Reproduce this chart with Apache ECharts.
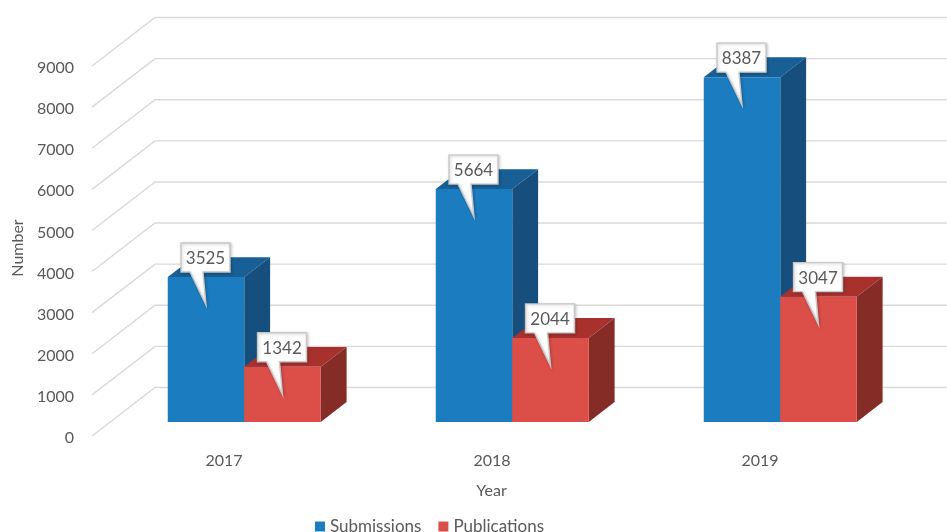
<!DOCTYPE html>
<html>
<head>
<meta charset="utf-8">
<style>html,body{margin:0;padding:0;background:#fff}#c{width:947px;height:532px}</style>
<script src="https://cdn.jsdelivr.net/npm/echarts@6/dist/echarts.min.js"></script>
</head>
<body>
<div id="c"></div>
<script>
var years = ['2017', '2018', '2019'];
var submissions = [3525, 5664, 8387];
var publications = [1342, 2044, 3047];
var yTicks = [0, 1000, 2000, 3000, 4000, 5000, 6000, 7000, 8000, 9000];

// Projection of the chart's depth axis, in px
var WALL_DX = 63, WALL_DY = -48.5;
var BAR_FRONT = 0.29, BAR_BACK = 0.70;
var BAR_W = 0.2855;

var FONT = 'Lato';
var TXT = '#595959';
var FS = 16;

function bar3d(seriesIndex, colors) {
  return function (params, api) {
    var cat = api.value(0), val = api.value(1);
    var c0 = api.coord([cat, 0]), c1 = api.coord([cat, val]);
    var band = api.size([1, 0])[0], w = band * BAR_W;
    var fx = WALL_DX * BAR_FRONT, fy = WALL_DY * BAR_FRONT;
    var dx = WALL_DX * (BAR_BACK - BAR_FRONT), dy = WALL_DY * (BAR_BACK - BAR_FRONT);
    var x0 = c0[0] + fx + (seriesIndex === 0 ? -w : 0), x1 = x0 + w;
    var yb = c0[1] + fy, yt = c1[1] + fy;
    var cx = (x0 + x1) / 2;
    var boxT = yt - 34, boxB = yt - 5, boxL = cx - 25, boxR = cx + 24;
    var tipY = yt + 28;
    return {
      type: 'group',
      children: [
        { type: 'polygon', shape: { points: [[x0, yt], [x1, yt], [x1 + dx, yt + dy], [x0 + dx, yt + dy]] }, style: { fill: colors.top } },
        { type: 'polygon', shape: { points: [[x1, yt], [x1 + dx, yt + dy], [x1 + dx, yb + dy], [x1, yb]] }, style: { fill: colors.side } },
        { type: 'rect', shape: { x: x0, y: yt, width: w, height: yb - yt }, style: { fill: colors.front } },
        { type: 'polygon',
          shape: { points: [[boxL, boxT], [boxR, boxT], [boxR, boxB], [cx - 3, boxB], [cx, tipY], [cx - 16, boxB], [boxL, boxB]] },
          style: { fill: '#ffffff', stroke: '#c8c8c8', lineWidth: 1.4, lineJoin: 'miter', shadowBlur: 3, shadowOffsetX: 1, shadowOffsetY: 1, shadowColor: 'rgba(0,0,0,0.2)' } },
        { type: 'text', x: cx - 0.5, y: (boxT + boxB) / 2 + 1,
          style: { text: String(val), fill: TXT, font: '17px ' + FONT, align: 'center', verticalAlign: 'middle' } }
      ]
    };
  };
}

function wallLines(params, api) {
  var v = api.value(0);
  var p = api.coord([0, v]);
  var left = p[0] - api.size([1, 0])[0] / 2;
  var right = left + api.size([1, 0])[0] * years.length;
  var y = p[1];
  return {
    type: 'polyline',
    shape: { points: [[left, y], [left + WALL_DX, y + WALL_DY], [right + WALL_DX, y + WALL_DY]] },
    style: { fill: 'none', stroke: '#d9d9d9', lineWidth: 1.4 }
  };
}

function pairs(arr) { return arr.map(function (v, i) { return [i, v]; }); }

var chart = echarts.init(document.getElementById('c'), null, { renderer: 'canvas' });
chart.setOption({
  animation: false,
  backgroundColor: '#ffffff',
  textStyle: { fontFamily: FONT },
  grid: { left: 92, right: 51, top: 66, bottom: 96, outerBoundsMode: 'none' },
  legend: {
    data: ['Submissions', 'Publications'],
    left: 310, top: 513, icon: 'rect', itemWidth: 10, itemHeight: 10, itemGap: 17,
    textStyle: { color: TXT, fontSize: 17, fontFamily: FONT }
  },
  xAxis: {
    type: 'category', data: years, name: 'Year', nameLocation: 'middle', nameGap: 47,
    nameTextStyle: { color: TXT, fontSize: FS, fontFamily: FONT, padding: [0, 5, 0, 0] },
    axisLine: { show: false }, axisTick: { show: false },
    axisLabel: { color: TXT, fontSize: FS, fontFamily: FONT, margin: 17, padding: [0, 4, 0, 0] }
  },
  yAxis: {
    type: 'value', min: 0, max: 9000, interval: 1000, name: 'Number', nameLocation: 'middle', nameGap: 66,
    nameTextStyle: { color: TXT, fontSize: FS, fontFamily: FONT, padding: [0, 0, 0, 6] },
    axisLine: { show: false }, axisTick: { show: false }, splitLine: { show: false },
    axisLabel: { color: TXT, fontSize: FS, fontFamily: FONT, margin: 18, verticalAlign: 'top', lineHeight: 4, formatter: function (v) { return String(v); } }
  },
  series: [
    { type: 'custom', name: 'walls', silent: true, data: yTicks.map(function (v) { return [v]; }), encode: { y: 0 }, renderItem: wallLines, z: 1 },
    { type: 'custom', name: 'Submissions', data: pairs(submissions), encode: { x: 0, y: 1 }, itemStyle: { color: '#1b7cc0' }, z: 2,
      renderItem: bar3d(0, { front: '#1b7cc0', top: '#175f95', side: '#164f7e' }) },
    { type: 'custom', name: 'Publications', data: pairs(publications), encode: { x: 0, y: 1 }, itemStyle: { color: '#dc4e48' }, z: 3,
      renderItem: bar3d(1, { front: '#dc4e48', top: '#a8312d', side: '#852c27' }) }
  ]
});
</script>
</body>
</html>
